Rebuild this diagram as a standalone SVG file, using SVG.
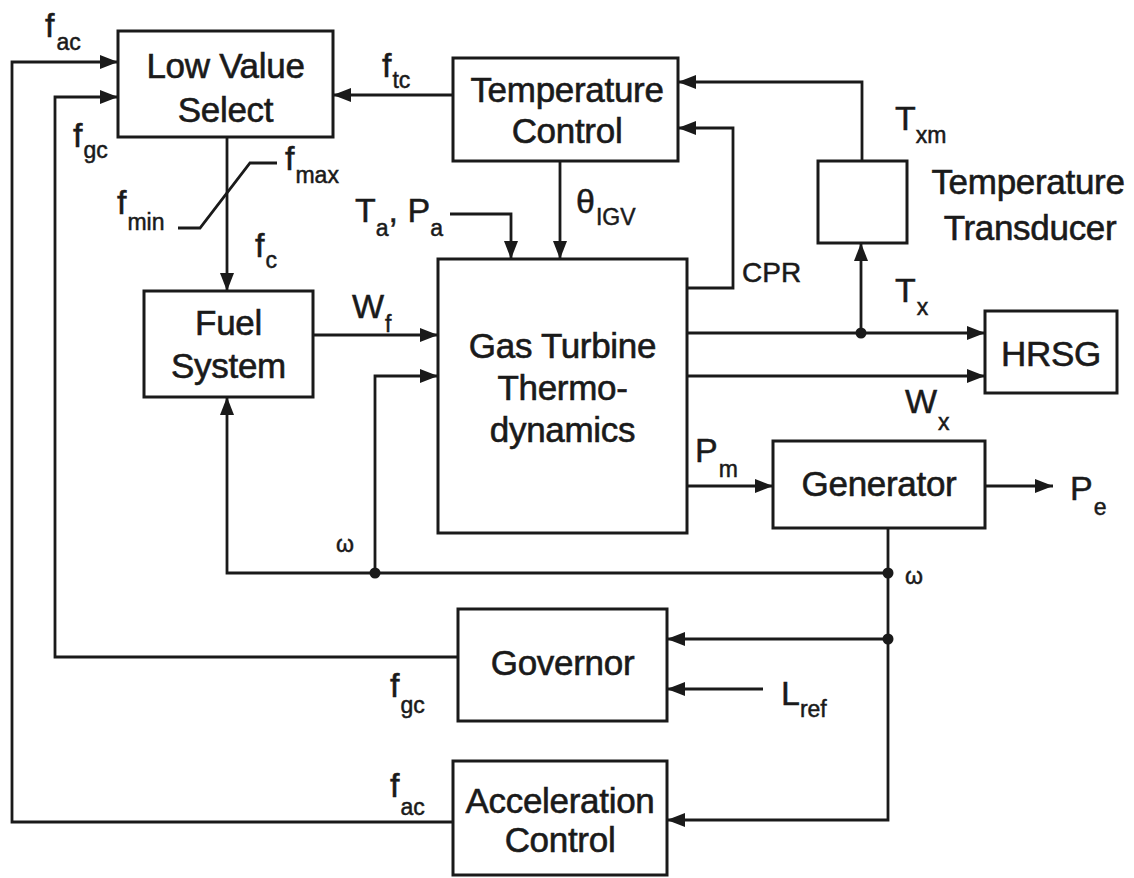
<svg xmlns="http://www.w3.org/2000/svg" width="1134" height="878" viewBox="0 0 1134 878">
<style>
.box{fill:#fff;stroke:#1a1a1a;stroke-width:3}
.ln{fill:none;stroke:#1a1a1a;stroke-width:2.8}
.arr{marker-end:url(#ah)}
.nt{font-family:"Liberation Sans",Arial,sans-serif;font-size:35px;fill:#1a1a1a;stroke:#1a1a1a;stroke-width:0.6;text-anchor:middle;letter-spacing:-0.3px}
.lb{font-family:"Liberation Sans",Arial,sans-serif;font-size:34px;fill:#1a1a1a;stroke:#1a1a1a;stroke-width:0.5}
.sb{font-size:23px}
.sm{font-family:"Liberation Sans",Arial,sans-serif;font-size:28px;fill:#1a1a1a;stroke:#1a1a1a;stroke-width:0.5}
.dot{fill:#1a1a1a}
</style>
<defs>
<marker id="ah" viewBox="0 0 18 14" refX="18" refY="7" markerWidth="18" markerHeight="14" orient="auto" markerUnits="userSpaceOnUse">
<path d="M0,0 L18,7 L0,14 z" fill="#1a1a1a"/>
</marker>
</defs>
<rect width="1134" height="878" fill="#fff"/>

<g id="connectors">
<polyline class="ln arr" points="453,822 12,822 12,62 118,62"/>
<polyline class="ln arr" points="458,657 55,657 55,97 118,97"/>
<line class="ln arr" x1="453" y1="95" x2="333" y2="95"/>
<line class="ln arr" x1="227" y1="137" x2="227" y2="291"/>
<polyline class="ln" points="178,228 200,228 250,163 277,163"/>
<line class="ln arr" x1="313" y1="335" x2="438" y2="335"/>
<polyline class="ln arr" points="375,573 375,376 438,376"/>
<polyline class="ln arr" points="888,573 227,573 227,397"/>
<polyline class="ln arr" points="450,214 511,214 511,259"/>
<line class="ln arr" x1="560" y1="161" x2="560" y2="259"/>
<polyline class="ln arr" points="687,288 733,288 733,128 678,128"/>
<polyline class="ln arr" points="862,161 862,82 678,82"/>
<line class="ln arr" x1="687" y1="333" x2="985" y2="333"/>
<line class="ln arr" x1="861" y1="333" x2="861" y2="243"/>
<line class="ln arr" x1="687" y1="376" x2="985" y2="376"/>
<line class="ln arr" x1="687" y1="486" x2="773" y2="486"/>
<line class="ln arr" x1="985" y1="486" x2="1053" y2="486"/>
<polyline class="ln arr" points="888,528 888,820 667,820"/>
<line class="ln arr" x1="888" y1="639" x2="667" y2="639"/>
<line class="ln arr" x1="763" y1="689" x2="667" y2="689"/>
<circle class="dot" cx="375" cy="573" r="5.5"/>
<circle class="dot" cx="888" cy="573" r="5.5"/>
<circle class="dot" cx="888" cy="639" r="5.5"/>
<circle class="dot" cx="861" cy="333" r="5.5"/>
</g>

<g id="lvs">
<rect class="box" x="118" y="31" width="215" height="106"/>
<text class="nt" x="225.5" y="78">Low Value</text>
<text class="nt" x="225.5" y="122">Select</text>
</g>
<g id="tempcontrol">
<rect class="box" x="453" y="58" width="225" height="103"/>
<text class="nt" x="567" y="102">Temperature</text>
<text class="nt" x="567" y="143">Control</text>
</g>
<g id="transducer">
<rect class="box" x="818" y="161" width="89" height="82"/>
<text class="nt" x="1028" y="194">Temperature</text>
<text class="nt" x="1030" y="240">Transducer</text>
</g>
<g id="fuel">
<rect class="box" x="144" y="291" width="169" height="106"/>
<text class="nt" x="228.5" y="335">Fuel</text>
<text class="nt" x="228.5" y="378">System</text>
</g>
<g id="gasturbine">
<rect class="box" x="438" y="259" width="249" height="274"/>
<text class="nt" x="562.5" y="358">Gas Turbine</text>
<text class="nt" x="562.5" y="400">Thermo-</text>
<text class="nt" x="562.5" y="442">dynamics</text>
</g>
<g id="hrsg">
<rect class="box" x="985" y="311" width="132" height="82"/>
<text class="nt" x="1051" y="366">HRSG</text>
</g>
<g id="generator">
<rect class="box" x="773" y="441" width="212" height="87"/>
<text class="nt" x="879" y="496">Generator</text>
</g>
<g id="governor">
<rect class="box" x="458" y="609" width="209" height="112"/>
<text class="nt" x="562.5" y="675">Governor</text>
</g>
<g id="accel">
<rect class="box" x="453" y="761" width="214" height="114"/>
<text class="nt" x="560" y="813">Acceleration</text>
<text class="nt" x="560" y="852">Control</text>
</g>

<g id="labels">
<text class="lb" x="45" y="37">f<tspan class="sb" dx="2" dy="13">ac</tspan></text>
<text class="lb" x="73" y="147">f<tspan class="sb" dx="1" dy="11">gc</tspan></text>
<text class="lb" x="382" y="77">f<tspan class="sb" dx="1" dy="11">tc</tspan></text>
<text class="lb" x="285" y="170">f<tspan class="sb" dx="1" dy="13">max</tspan></text>
<text class="lb" x="117" y="214">f<tspan class="sb" dx="1" dy="16">min</tspan></text>
<text class="lb" x="255" y="257">f<tspan class="sb" dx="1" dy="11">c</tspan></text>
<text class="lb" x="355" y="222">T<tspan class="sb" dx="0" dy="14">a</tspan><tspan dy="-14">, P</tspan><tspan class="sb" dx="0" dy="14">a</tspan></text>
<text class="lb" x="576" y="213">θ<tspan class="sb" dx="1" dy="12">IGV</tspan></text>
<text class="lb" x="352" y="318">W<tspan class="sb" dx="1" dy="14">f</tspan></text>
<text class="sm" x="742" y="282">CPR</text>
<text class="lb" x="895" y="130">T<tspan class="sb" dx="0" dy="13">xm</tspan></text>
<text class="lb" x="895" y="302">T<tspan class="sb" dx="1" dy="13">x</tspan></text>
<text class="lb" x="905" y="413">W<tspan class="sb" dx="1" dy="17">x</tspan></text>
<text class="lb" x="695" y="462">P<tspan class="sb" dx="1" dy="15">m</tspan></text>
<text class="lb" x="1070" y="500">P<tspan class="sb" dx="1" dy="15">e</tspan></text>
<text class="lb" x="781" y="705">L<tspan class="sb" dx="0" dy="12">ref</tspan></text>
<text class="lb" x="390" y="697">f<tspan class="sb" dx="1" dy="16">gc</tspan></text>
<text class="lb" x="390" y="797">f<tspan class="sb" dx="1" dy="18">ac</tspan></text>
<text class="sm" x="336" y="552" style="font-size:23px">ω</text>
<text class="sm" x="905" y="584" style="font-size:23px">ω</text>
</g>
</svg>
